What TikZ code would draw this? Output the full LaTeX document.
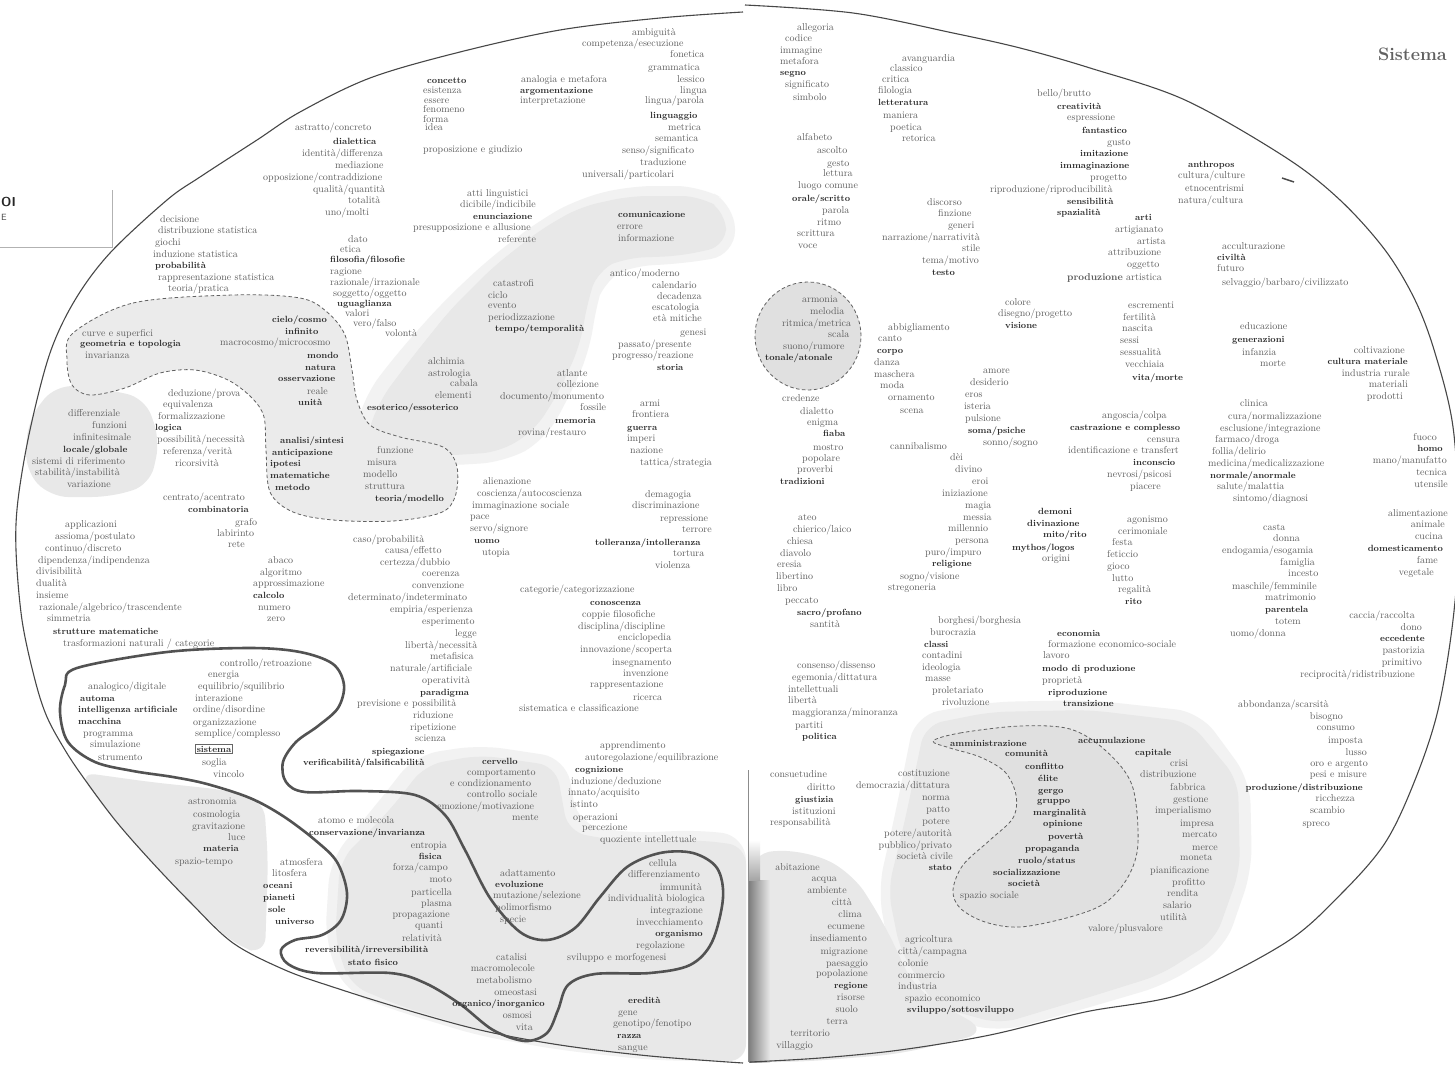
\documentclass[tikz,border=0pt]{standalone}
\usepackage{fontspec}
\newcounter{wc}
\tikzset{
  tx/.style={inner sep=0pt, anchor=base west, yshift=-3pt, font=\fontsize{10}{12}\selectfont, text=black!64},
  tb/.style={tx, font=\fontsize{9}{11}\selectfont\bfseries, text=black!82},
  txr/.style={tx, anchor=base east},
  tbr/.style={tb, anchor=base east},
  shd/.style={fill=black!9, rounded corners=18pt},
  shl/.style={fill=black!5, rounded corners=24pt},
  ell/.style={draw=black!72, line width=1.1pt},
  blob/.style={draw=black!68, line width=2.6pt},
  dsh/.style={draw=black!62, line width=0.8pt, dash pattern=on 3.5pt off 2.5pt}
}
\newcommand\Wl[3]{\stepcounter{wc}\node[tx] (w\arabic{wc}) at (#1,#2) {#3};}
\newcommand\Bl[3]{\stepcounter{wc}\node[tb] (w\arabic{wc}) at (#1,#2) {#3};}
\newcommand\Wr[3]{\stepcounter{wc}\node[txr] (w\arabic{wc}) at (#1,#2) {#3};}
\newcommand\Br[3]{\stepcounter{wc}\node[tbr] (w\arabic{wc}) at (#1,#2) {#3};}
\begin{document}
\begin{tikzpicture}[x=1pt,y=-1pt]
\useasboundingbox (0,0) rectangle (1455,1070);
\clip (0,0) rectangle (1455,1070);
\fill[white] (0,0) rectangle (1455,1070);
% ---------- soft outer halos of shaded areas ----------
\fill[shl] (350,450) -- (365,395) -- (400,350) -- (445,300) -- (490,258) -- (540,220) -- (580,198) -- (630,186) -- (700,186) -- (735,205) -- (735,255) -- (680,264) -- (630,266) -- (605,278) -- (596,305) -- (590,350) -- (570,395) -- (545,440) -- (505,462) -- (440,466) -- cycle;
\fill[shl] (415,755) -- (480,745) -- (566,758) -- (578,825) -- (630,833) -- (700,830) -- (746,836) -- (746,1062) -- (650,1060) -- (560,1050) -- (480,1036) -- (400,1012) -- (345,992) -- (325,940) -- (330,860) -- (380,800) -- cycle;
\fill[shl] (915,715) -- (990,702) -- (1090,700) -- (1200,712) -- (1250,780) -- (1252,870) -- (1225,948) -- (1165,985) -- (1080,1010) -- (1000,1032) -- (925,1014) -- (890,955) -- (878,890) -- (895,815) -- cycle;
% ---------- shaded areas ----------
\fill[shd] (365,440) -- (380,400) -- (410,360) -- (450,310) -- (493,267) -- (540,230) -- (580,207) -- (630,196) -- (700,196) -- (726,212) -- (726,246) -- (680,256) -- (625,258) -- (598,270) -- (588,300) -- (580,345) -- (560,390) -- (535,430) -- (500,452) -- (440,456) -- cycle;
\fill[shd] (28,420) -- (55,385) -- (100,388) -- (145,398) -- (160,440) -- (150,485) -- (110,497) -- (50,497) -- (25,470) -- cycle;
\fill[shd] (78,772) -- (150,782) -- (225,790) -- (264,800) -- (268,860) -- (265,955) -- (235,945) -- (190,902) -- (150,860) -- (110,815) -- cycle;
\fill[shd] (425,765) -- (480,755) -- (556,766) -- (568,832) -- (630,843) -- (700,840) -- (746,846) -- (746,1062) -- (650,1057) -- (560,1046) -- (480,1030) -- (400,1006) -- (350,985) -- (335,940) -- (340,860) -- (390,810) -- cycle;
\fill[shd] (925,725) -- (990,712) -- (1090,710) -- (1190,722) -- (1238,780) -- (1240,870) -- (1215,940) -- (1160,975) -- (1080,1000) -- (1000,1024) -- (935,1006) -- (900,950) -- (888,890) -- (905,820) -- cycle;
\fill[shd, rounded corners=25pt] (749,852) -- (805,850) -- (852,872) -- (885,925) -- (915,990) -- (990,1032) -- (900,1054) -- (800,1062) -- (749,1062) -- cycle;
\shade[left color=black!50, right color=black!9] (749,880) rectangle (770,1062);
\shade[top color=white, bottom color=black!35] (749,840) rectangle (760,880);
% ---------- dashed regions ----------
\path[dsh, fill=black!8] plot[smooth cycle, tension=0.55] coordinates {(73,333) (133,303) (233,295) (300,298) (327,312) (345,335) (352,370) (357,400) (370,425) (400,437) (443,447) (457,467) (455,497) (440,513) (393,521) (333,520) (293,512) (270,492) (266,450) (264,417) (252,398) (228,380) (195,370) (160,373) (125,388) (90,395) (72,385) (67,360)};
\path[dsh, fill=black!12] plot[smooth cycle, tension=0.55] coordinates {(933,741) (960,733) (1020,726) (1070,729) (1105,750) (1132,785) (1138,843) (1128,877) (1105,903) (1070,917) (1020,927) (985,922) (960,908) (953,890) (963,865) (990,840) (1013,818) (1016,795) (1005,772) (980,757) (950,748)};
\path[dsh, fill=black!12] (808,336) circle [x radius=53pt, y radius=54pt];
% ---------- big ellipse halves ----------
\draw[ell] plot[smooth, tension=0.55] coordinates {(743,12) (660,18) (560,30) (460,52) (370,78) (300,112) (257,140) (200,177) (167,200) (110,253) (75,300) (50,353) (30,430) (18,500) (16,550) (22,620) (35,680) (47,717) (65,750) (83,777) (115,820) (150,860) (190,902) (233,943) (285,970) (333,987) (400,1008) (480,1030) (560,1045) (650,1056) (743,1063)};
\draw[ell] plot[smooth, tension=0.55] coordinates {(745,5) (853,13) (953,33) (1020,48) (1090,68) (1185,100) (1285,157) (1340,200) (1385,250) (1415,300) (1435,353) (1453,427) (1459,530) (1453,620) (1438,710) (1415,780) (1385,843) (1340,895) (1285,943) (1185,993) (1085,1012) (990,1035) (900,1050) (820,1058) (750,1062)};
\draw[black!45, line width=0.5pt] (748,770) -- (748,1062);
% ---------- thick blob ----------
\draw[blob] plot[smooth cycle, tension=0.55] coordinates {(77,668) (167,652) (250,648) (300,652) (333,664) (344,685) (338,708) (318,726) (296,742) (283,762) (286,782) (305,792) (360,791) (415,795) (445,815) (465,850) (490,898) (520,932) (547,940) (575,928) (600,897) (627,867) (660,853) (693,853) (717,868) (723,898) (712,942) (690,965) (650,973) (595,974) (568,985) (558,1010) (547,1033) (525,1041) (493,1030) (460,1004) (425,983) (390,973) (317,973) (288,964) (281,950) (295,940) (322,935) (341,920) (347,893) (337,862) (315,840) (283,816) (250,798) (207,784) (173,777) (133,771) (95,762) (68,742) (60,712) (65,685)};
% ---------- artifacts ----------
\draw[black!30, line width=0.4pt] (0,247) -- (112,247) -- (112,190);
\node[inner sep=0pt, anchor=base west, font=\sffamily\bfseries\fontsize{13}{13}\selectfont, text=black!85] (oi) at (1,206) {OI};
\node[inner sep=0pt, anchor=base west, font=\sffamily\fontsize{9}{9}\selectfont, text=black!70] (ee) at (1,220) {E};
\draw[black!70, line width=1.5pt] (1282,178) -- (1294,182);
\node[inner sep=0pt, anchor=base east, font=\fontsize{18}{20}\selectfont\bfseries, text=black!62] (title) at (1447,61) {Sistema};
% ---------- texts: top left ----------
\Wl{295}{128}{astratto/concreto}
\Bl{333}{141}{dialettica}
\Wl{302}{153}{identità/differenza}
\Wl{335}{165}{mediazione}
\Wl{263}{177}{opposizione/contraddizione}
\Wl{313}{189}{qualità/quantità}
\Wl{348}{200}{totalità}
\Wl{325}{212}{uno/molti}
\Wl{160}{219}{decisione}
\Wl{158}{230}{distribuzione statistica}
\Wl{155}{242}{giochi}
\Wl{153}{254}{induzione statistica}
\Bl{155}{265}{probabilità}
\Wl{158}{277}{rappresentazione statistica}
\Wl{168}{288}{teoria/pratica}
\Wl{348}{239}{dato}
\Wl{340}{249}{etica}
\Bl{330}{259}{filosofia/filosofie}
\Wl{330}{271}{ragione}
\Wl{330}{282}{razionale/irrazionale}
\Wl{333}{293}{soggetto/oggetto}
\Bl{337}{303}{uguaglianza}
\Wl{345}{313}{valori}
\Wl{353}{323}{vero/falso}
\Wl{385}{333}{volontà}
\Bl{427}{81}{concetto}
\Wl{423}{91}{esistenza}
\Wl{424}{101}{essere}
\Wl{423}{110}{fenomeno}
\Wl{423}{119}{forma}
\Wl{425}{128}{idea}
\Wl{423}{149}{proposizione e giudizio}
\Wl{521}{80}{analogia e metafora}
\Bl{520}{91}{argomentazione}
\Wl{520}{101}{interpretazione}
\Wl{632}{33}{ambiguità}
\Wl{582}{44}{competenza/esecuzione}
\Wl{670}{55}{fonetica}
\Wl{648}{68}{grammatica}
\Wl{677}{80}{lessico}
\Wl{680}{91}{lingua}
\Wl{645}{101}{lingua/parola}
\Bl{650}{116}{linguaggio}
\Wl{668}{127}{metrica}
\Wl{655}{138}{semantica}
\Wl{622}{150}{senso/significato}
\Wl{640}{162}{traduzione}
\Wl{582}{174}{universali/particolari}
\Wl{467}{193}{atti linguistici}
\Wl{460}{204}{dicibile/indicibile}
\Bl{473}{216}{enunciazione}
\Wl{413}{227}{presupposizione e allusione}
\Wl{498}{239}{referente}
\Bl{618}{214}{comunicazione}
\Wl{617}{226}{errore}
\Wl{618}{238}{informazione}
\Wl{610}{273}{antico/moderno}
\Wl{652}{285}{calendario}
\Wl{657}{296}{decadenza}
\Wl{652}{307}{escatologia}
\Wl{653}{318}{età mitiche}
\Wl{680}{332}{genesi}
\Wl{618}{344}{passato/presente}
\Wl{612}{355}{progresso/reazione}
\Bl{657}{367}{storia}
\Wl{493}{283}{catastrofi}
\Wl{488}{295}{ciclo}
\Wl{488}{305}{evento}
\Wl{488}{317}{periodizzazione}
\Bl{495}{328}{tempo/temporalità}
% ---------- top right ----------
\Wl{797}{28}{allegoria}
\Wl{785}{39}{codice}
\Wl{780}{51}{immagine}
\Wl{780}{62}{metafora}
\Bl{780}{73}{segno}
\Wl{785}{85}{significato}
\Wl{793}{98}{simbolo}
\Wl{902}{59}{avanguardia}
\Wl{890}{69}{classico}
\Wl{882}{80}{critica}
\Wl{878}{91}{filologia}
\Bl{878}{103}{letteratura}
\Wl{883}{115}{maniera}
\Wl{890}{127}{poetica}
\Wl{902}{138}{retorica}
\Wl{797}{137}{alfabeto}
\Wl{817}{150}{ascolto}
\Wl{827}{163}{gesto}
\Wl{823}{173}{lettura}
\Wl{798}{185}{luogo comune}
\Bl{792}{198}{orale/scritto}
\Wl{822}{210}{parola}
\Wl{817}{222}{ritmo}
\Wl{797}{233}{scrittura}
\Wl{798}{245}{voce}
\Wl{927}{202}{discorso}
\Wl{938}{213}{finzione}
\Wl{948}{225}{generi}
\Wl{882}{237}{narrazione/narratività}
\Wl{962}{248}{stile}
\Wl{922}{260}{tema/motivo}
\Bl{932}{272}{testo}
\Wl{1005}{302}{colore}
\Wl{998}{313}{disegno/progetto}
\Bl{1005}{325}{visione}
\Wl{888}{327}{abbigliamento}
\Wl{878}{338}{canto}
\Bl{877}{350}{corpo}
\Wl{874}{362}{danza}
\Wl{874}{374}{maschera}
\Wl{880}{385}{moda}
\Wl{888}{397}{ornamento}
\Wl{900}{410}{scena}
\Wl{802}{299}{armonia}
\Wl{810}{311}{melodia}
\Wl{782}{323}{ritmica/metrica}
\Wl{828}{334}{scala}
\Wl{783}{346}{suono/rumore}
\Bl{765}{357}{tonale/atonale}
\Wl{1037}{94}{bello/brutto}
\Bl{1057}{107}{creatività}
\Wl{1067}{118}{espressione}
\Bl{1082}{130}{fantastico}
\Wl{1107}{142}{gusto}
\Bl{1080}{154}{imitazione}
\Bl{1060}{165}{immaginazione}
\Wl{1090}{177}{progetto}
\Wl{990}{189}{riproduzione/riproducibilità}
\Bl{1067}{201}{sensibilità}
\Bl{1057}{212}{spazialità}
\Bl{1135}{217}{arti}
\Wl{1115}{229}{artigianato}
\Wl{1137}{241}{artista}
\Wl{1108}{252}{attribuzione}
\Wl{1127}{264}{oggetto}
\Wl{1067}{277}{\textbf{produzione} artistica}
\Bl{1188}{164}{anthropos}
\Wl{1178}{175}{cultura/culture}
\Wl{1185}{188}{etnocentrismi}
\Wl{1178}{200}{natura/cultura}
\Wl{1222}{246}{acculturazione}
\Bl{1217}{257}{civiltà}
\Wl{1217}{268}{futuro}
\Wl{1222}{282}{selvaggio/barbaro/civilizzato}
\Wl{1128}{305}{escrementi}
\Wl{1123}{317}{fertilità}
\Wl{1122}{328}{nascita}
\Wl{1120}{340}{sessi}
\Wl{1120}{352}{sessualità}
\Wl{1125}{364}{vecchiaia}
\Bl{1132}{377}{vita/morte}
\Wl{1240}{326}{educazione}
\Bl{1232}{339}{generazioni}
\Wl{1242}{352}{infanzia}
\Wl{1260}{363}{morte}
\Wr{1405}{350}{coltivazione}
\Br{1408}{361}{cultura materiale}
\Wr{1410}{373}{industria rurale}
\Wr{1408}{384}{materiali}
\Wr{1403}{396}{prodotti}
\Wl{1102}{415}{angoscia/colpa}
\Bl{1070}{427}{castrazione e complesso}
\Wl{1147}{439}{censura}
\Wl{1068}{450}{identificazione e transfert}
\Bl{1133}{462}{inconscio}
\Wl{1107}{474}{nevrosi/psicosi}
\Wl{1130}{486}{piacere}
\Wl{1240}{403}{clinica}
\Wl{1228}{416}{cura/normalizzazione}
\Wl{1220}{428}{esclusione/integrazione}
\Wl{1215}{439}{farmaco/droga}
\Wl{1212}{451}{follia/delirio}
\Wl{1208}{463}{medicina/medicalizzazione}
\Bl{1210}{475}{normale/anormale}
\Wl{1217}{486}{salute/malattia}
\Wl{1233}{498}{sintomo/diagnosi}
\Wr{1437}{437}{fuoco}
\Br{1443}{448}{homo}
\Wr{1447}{460}{mano/manufatto}
\Wr{1447}{472}{tecnica}
\Wr{1448}{484}{utensile}
\Wr{1448}{513}{alimentazione}
\Wr{1445}{524}{animale}
\Wr{1443}{536}{cucina}
\Br{1443}{548}{domesticamento}
\Wr{1438}{560}{fame}
\Wr{1434}{572}{vegetale}
\Wl{1127}{519}{agonismo}
\Wl{1118}{531}{cerimoniale}
\Wl{1112}{542}{festa}
\Wl{1107}{554}{feticcio}
\Wl{1107}{566}{gioco}
\Wl{1112}{578}{lutto}
\Wl{1118}{589}{regalità}
\Bl{1125}{601}{rito}
\Wl{1263}{527}{casta}
\Wl{1273}{538}{donna}
\Wl{1222}{550}{endogamia/esogamia}
\Wl{1280}{562}{famiglia}
\Wl{1288}{573}{incesto}
\Wl{1232}{586}{maschile/femminile}
\Wl{1265}{597}{matrimonio}
\Bl{1265}{609}{parentela}
\Wl{1275}{621}{totem}
\Wl{1230}{633}{uomo/donna}
\Wr{1415}{615}{caccia/raccolta}
\Wr{1422}{627}{dono}
\Br{1425}{638}{eccedente}
\Wr{1425}{650}{pastorizia}
\Wr{1422}{662}{primitivo}
\Wr{1415}{674}{reciprocità/ridistribuzione}
\Wl{1238}{704}{abbondanza/scarsità}
\Wr{1343}{716}{bisogno}
\Wr{1355}{727}{consumo}
\Wr{1363}{740}{imposta}
\Wr{1367}{752}{lusso}
\Wr{1368}{763}{oro e argento}
\Wr{1367}{774}{pesi e misure}
\Br{1363}{787}{produzione/distribuzione}
\Wr{1355}{798}{ricchezza}
\Wr{1345}{810}{scambio}
\Wr{1330}{823}{spreco}
% ---------- middle right ----------
\Wl{782}{398}{credenze}
\Wl{800}{411}{dialetto}
\Wl{807}{422}{enigma}
\Bl{823}{433}{fiaba}
\Wl{813}{447}{mostro}
\Wl{802}{458}{popolare}
\Wl{797}{469}{proverbi}
\Bl{780}{481}{tradizioni}
\Wl{983}{370}{amore}
\Wl{970}{382}{desiderio}
\Wl{965}{394}{eros}
\Wl{964}{406}{isteria}
\Wl{965}{418}{pulsione}
\Bl{968}{430}{soma/psiche}
\Wl{983}{442}{sonno/sogno}
\Wl{890}{446}{cannibalismo}
\Wl{950}{457}{dèi}
\Wl{955}{469}{divino}
\Wl{972}{481}{eroi}
\Wl{942}{493}{iniziazione}
\Wl{965}{505}{magia}
\Wl{963}{517}{messia}
\Wl{948}{528}{millennio}
\Wl{955}{540}{persona}
\Wl{925}{552}{puro/impuro}
\Bl{932}{563}{religione}
\Wl{900}{576}{sogno/visione}
\Wl{888}{587}{stregoneria}
\Wl{798}{517}{ateo}
\Wl{793}{529}{chierico/laico}
\Wl{787}{541}{chiesa}
\Wl{780}{553}{diavolo}
\Wl{777}{564}{eresia}
\Wl{776}{576}{libertino}
\Wl{777}{588}{libro}
\Wl{785}{600}{peccato}
\Bl{797}{612}{sacro/profano}
\Wl{810}{624}{santità}
\Bl{1038}{511}{demoni}
\Bl{1027}{523}{divinazione}
\Bl{1043}{534}{mito/rito}
\Bl{1012}{547}{mythos/logos}
\Wl{1042}{558}{origini}
\Wl{938}{620}{borghesi/borghesia}
\Wl{930}{632}{burocrazia}
\Bl{924}{644}{classi}
\Wl{922}{655}{contadini}
\Wl{922}{667}{ideologia}
\Wl{925}{678}{masse}
\Wl{932}{690}{proletariato}
\Wl{942}{702}{rivoluzione}
\Wl{797}{665}{consenso/dissenso}
\Wl{792}{677}{egemonia/dittatura}
\Wl{788}{689}{intellettuali}
\Wl{788}{700}{libertà}
\Wl{792}{712}{maggioranza/minoranza}
\Wl{795}{725}{partiti}
\Bl{802}{736}{politica}
\Bl{1057}{633}{economia}
\Wl{1048}{644}{formazione economico-sociale}
\Wl{1043}{655}{lavoro}
\Bl{1042}{668}{modo di produzione}
\Wl{1042}{680}{proprietà}
\Bl{1048}{692}{riproduzione}
\Bl{1063}{703}{transizione}
% ---------- bottom right ----------
\Wl{770}{774}{consuetudine}
\Wl{807}{787}{diritto}
\Bl{795}{799}{giustizia}
\Wl{792}{811}{istituzioni}
\Wl{770}{822}{responsabilità}
\Wr{950}{773}{costituzione}
\Wr{950}{785}{democrazia/dittatura}
\Wr{950}{797}{norma}
\Wr{950}{809}{patto}
\Wr{950}{821}{potere}
\Wr{952}{833}{potere/autorità}
\Wr{952}{845}{pubblico/privato}
\Wr{953}{856}{società civile}
\Br{952}{867}{stato}
\Bl{950}{743}{amministrazione}
\Bl{1005}{753}{comunità}
\Bl{1025}{766}{conflitto}
\Bl{1038}{778}{élite}
\Bl{1038}{790}{gergo}
\Bl{1037}{800}{gruppo}
\Bl{1033}{812}{marginalità}
\Bl{1043}{823}{opinione}
\Bl{1048}{836}{povertà}
\Bl{1025}{848}{propaganda}
\Bl{1018}{860}{ruolo/status}
\Bl{993}{872}{socializzazione}
\Bl{1008}{883}{società}
\Wl{960}{895}{spazio sociale}
\Bl{1078}{740}{accumulazione}
\Bl{1135}{752}{capitale}
\Wl{1170}{763}{crisi}
\Wl{1140}{774}{distribuzione}
\Wl{1170}{787}{fabbrica}
\Wl{1173}{799}{gestione}
\Wl{1155}{810}{imperialismo}
\Wl{1180}{823}{impresa}
\Wl{1182}{834}{mercato}
\Wl{1192}{847}{merce}
\Wl{1180}{857}{moneta}
\Wl{1150}{870}{pianificazione}
\Wl{1172}{882}{profitto}
\Wl{1167}{893}{rendita}
\Wl{1163}{905}{salario}
\Wl{1160}{917}{utilità}
\Wl{1088}{928}{valore/plusvalore}
\Wr{820}{867}{abitazione}
\Wr{837}{878}{acqua}
\Wr{847}{890}{ambiente}
\Wr{852}{902}{città}
\Wr{862}{914}{clima}
\Wr{865}{926}{ecumene}
\Wr{867}{938}{insediamento}
\Wr{868}{951}{migrazione}
\Wr{868}{963}{paesaggio}
\Wr{868}{973}{popolazione}
\Br{868}{985}{regione}
\Wr{865}{997}{risorse}
\Wr{858}{1009}{suolo}
\Wr{848}{1021}{terra}
\Wr{830}{1033}{territorio}
\Wr{813}{1045}{villaggio}
\Wl{905}{939}{agricoltura}
\Wl{898}{951}{città/campagna}
\Wl{898}{963}{colonie}
\Wl{898}{975}{commercio}
\Wl{898}{986}{industria}
\Wl{905}{998}{spazio economico}
\Bl{907}{1009}{sviluppo/sottosviluppo}
% ---------- left middle ----------
\Wl{82}{333}{curve e superfici}
\Bl{80}{343}{geometria e topologia}
\Wl{85}{355}{invarianza}
\Bl{272}{319}{cielo/cosmo}
\Bl{285}{331}{infinito}
\Wl{220}{342}{macrocosmo/microcosmo}
\Bl{307}{355}{mondo}
\Bl{305}{367}{natura}
\Bl{278}{378}{osservazione}
\Wl{307}{391}{reale}
\Bl{298}{402}{unità}
\Wl{168}{393}{deduzione/prova}
\Wl{163}{404}{equivalenza}
\Wl{158}{416}{formalizzazione}
\Bl{155}{427}{logica}
\Wl{157}{439}{possibilità/necessità}
\Wl{163}{451}{referenza/verità}
\Wl{175}{463}{ricorsività}
\Wl{68}{413}{differenziale}
\Wl{92}{425}{funzioni}
\Wl{73}{437}{infinitesimale}
\Bl{63}{449}{locale/globale}
\Wl{32}{461}{sistemi di riferimento}
\Wl{35}{472}{stabilità/instabilità}
\Wl{67}{484}{variazione}
\Bl{280}{440}{analisi/sintesi}
\Bl{272}{452}{anticipazione}
\Bl{270}{463}{ipotesi}
\Bl{270}{475}{matematiche}
\Bl{275}{487}{metodo}
\Wl{377}{450}{funzione}
\Wl{367}{462}{misura}
\Wl{363}{474}{modello}
\Wl{365}{486}{struttura}
\Bl{375}{498}{teoria/modello}
\Wl{163}{497}{centrato/acentrato}
\Bl{188}{509}{combinatoria}
\Wl{235}{522}{grafo}
\Wl{217}{533}{labirinto}
\Wl{228}{544}{rete}
\Wl{65}{524}{applicazioni}
\Wl{55}{536}{assioma/postulato}
\Wl{45}{548}{continuo/discreto}
\Wl{38}{560}{dipendenza/indipendenza}
\Wl{36}{571}{divisibilità}
\Wl{36}{583}{dualità}
\Wl{36}{595}{insieme}
\Wl{39}{607}{razionale/algebrico/trascendente}
\Wl{47}{618}{simmetria}
\Bl{53}{631}{strutture matematiche}
\Wl{63}{643}{trasformazioni naturali / categorie}
\Wl{268}{560}{abaco}
\Wl{260}{572}{algoritmo}
\Wl{253}{583}{approssimazione}
\Bl{253}{595}{calcolo}
\Wl{258}{607}{numero}
\Wl{267}{618}{zero}
% ---------- centre ----------
\Wl{428}{361}{alchimia}
\Wl{428}{373}{astrologia}
\Wl{450}{383}{cabala}
\Wl{435}{395}{elementi}
\Bl{367}{407}{esoterico/essoterico}
\Wl{557}{373}{atlante}
\Wl{557}{384}{collezione}
\Wl{500}{396}{documento/monumento}
\Wl{580}{407}{fossile}
\Bl{555}{420}{memoria}
\Wl{518}{432}{rovina/restauro}
\Wl{640}{403}{armi}
\Wl{632}{414}{frontiera}
\Bl{627}{427}{guerra}
\Wl{627}{438}{imperi}
\Wl{630}{450}{nazione}
\Wl{640}{462}{tattica/strategia}
\Wl{483}{481}{alienazione}
\Wl{477}{493}{coscienza/autocoscienza}
\Wl{472}{505}{immaginazione sociale}
\Wl{470}{516}{pace}
\Wl{470}{528}{servo/signore}
\Bl{474}{540}{uomo}
\Wl{482}{552}{utopia}
\Wl{645}{494}{demagogia}
\Wl{632}{505}{discriminazione}
\Wl{660}{518}{repressione}
\Wl{682}{529}{terrore}
\Bl{595}{542}{tolleranza/intolleranza}
\Wl{673}{553}{tortura}
\Wl{655}{565}{violenza}
\Wl{353}{539}{caso/probabilità}
\Wl{385}{550}{causa/effetto}
\Wl{380}{562}{certezza/dubbio}
\Wl{422}{573}{coerenza}
\Wl{412}{585}{convenzione}
\Wl{348}{597}{determinato/indeterminato}
\Wl{390}{609}{empiria/esperienza}
\Wl{422}{621}{esperimento}
\Wl{455}{633}{legge}
\Wl{405}{645}{libertà/necessità}
\Wl{430}{656}{metafisica}
\Wl{390}{668}{naturale/artificiale}
\Wl{422}{680}{operatività}
\Bl{420}{692}{paradigma}
\Wl{357}{703}{previsione e possibilità}
\Wl{413}{715}{riduzione}
\Wl{410}{727}{ripetizione}
\Wl{415}{738}{scienza}
\Bl{372}{751}{spiegazione}
\Wl{520}{589}{categorie/categorizzazione}
\Bl{590}{602}{conoscenza}
\Wl{582}{614}{coppie filosofiche}
\Wl{578}{626}{disciplina/discipline}
\Wl{618}{637}{enciclopedia}
\Wl{580}{649}{innovazione/scoperta}
\Wl{612}{662}{insegnamento}
\Wl{623}{673}{invenzione}
\Wl{590}{684}{rappresentazione}
\Wl{633}{697}{ricerca}
\Wl{519}{708}{sistematica e classificazione}
% ---------- bottom left ----------
\Wl{220}{663}{controllo/retroazione}
\Wl{208}{674}{energia}
\Wl{198}{686}{equilibrio/squilibrio}
\Wl{195}{698}{interazione}
\Wl{193}{709}{ordine/disordine}
\Wl{193}{722}{organizzazione}
\Wl{195}{733}{semplice/complesso}
\node[tb, draw=black!60, line width=0.5pt, inner sep=1.5pt] (sist) at (195,749) {sistema};
\Wl{202}{762}{soglia}
\Wl{213}{774}{vincolo}
\Wl{88}{686}{analogico/digitale}
\Bl{80}{698}{automa}
\Bl{78}{709}{intelligenza artificiale}
\Bl{78}{721}{macchina}
\Wl{83}{733}{programma}
\Wl{90}{744}{simulazione}
\Wl{98}{757}{strumento}
\Wl{188}{801}{astronomia}
\Wl{193}{814}{cosmologia}
\Wl{192}{826}{gravitazione}
\Wl{228}{837}{luce}
\Bl{203}{848}{materia}
\Wl{175}{861}{spazio-tempo}
\Wl{280}{862}{atmosfera}
\Wl{272}{873}{litosfera}
\Bl{263}{885}{oceani}
\Bl{263}{897}{pianeti}
\Bl{268}{909}{sole}
\Bl{275}{921}{universo}
\Bl{303}{762}{verificabilità/falsificabilità}
\Wl{318}{820}{atomo e molecola}
\Bl{309}{832}{conservazione/invarianza}
\Bl{305}{949}{reversibilità/irreversibilità}
\Bl{348}{962}{stato fisico}
\Wr{447}{845}{entropia}
\Br{442}{856}{fisica}
\Wr{448}{867}{forza/campo}
\Wr{452}{879}{moto}
\Wr{452}{892}{particella}
\Wr{452}{903}{plasma}
\Wr{450}{914}{propagazione}
\Wr{443}{925}{quanti}
\Wr{442}{938}{relatività}
\Bl{482}{761}{cervello}
\Wl{467}{772}{comportamento}
\Wl{450}{783}{e condizionamento}
\Wl{467}{794}{controllo sociale}
\Wl{437}{806}{emozione/motivazione}
\Wl{512}{817}{mente}
\Wl{600}{745}{apprendimento}
\Wl{585}{757}{autoregolazione/equilibrazione}
\Bl{575}{769}{cognizione}
\Wl{571}{781}{induzione/deduzione}
\Wl{568}{792}{innato/acquisito}
\Wl{570}{804}{istinto}
\Wl{573}{817}{operazioni}
\Wl{582}{827}{percezione}
\Wl{600}{839}{quoziente intellettuale}
\Wl{500}{873}{adattamento}
\Bl{495}{884}{evoluzione}
\Wl{493}{895}{mutazione/selezione}
\Wl{495}{907}{polimorfismo}
\Wl{500}{919}{specie}
\Wr{677}{863}{cellula}
\Wr{700}{874}{differenziamento}
\Wr{702}{887}{immunità}
\Wr{705}{898}{individualità biologica}
\Wr{703}{910}{integrazione}
\Wr{703}{922}{invecchiamento}
\Br{703}{933}{organismo}
\Wr{685}{945}{regolazione}
\Wl{567}{957}{sviluppo e morfogenesi}
\Wr{527}{957}{catalisi}
\Wr{535}{968}{macromolecole}
\Wr{532}{980}{metabolismo}
\Wr{537}{992}{omeostasi}
\Br{545}{1003}{organico/inorganico}
\Wr{532}{1015}{osmosi}
\Wr{533}{1027}{vita}
\Bl{628}{1000}{eredità}
\Wl{618}{1012}{gene}
\Wl{613}{1023}{genotipo/fenotipo}
\Bl{617}{1035}{razza}
\Wl{618}{1047}{sangue}
\end{tikzpicture}
\end{document}
